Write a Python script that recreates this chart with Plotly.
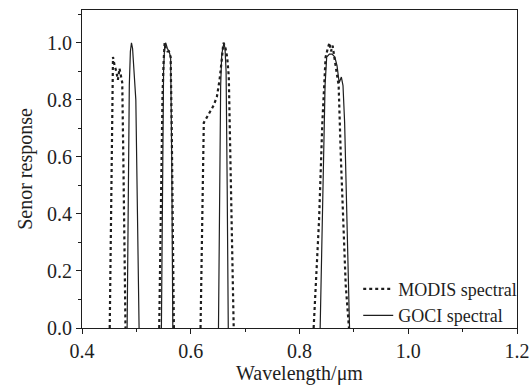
import plotly.graph_objects as go

# MODIS spectral response (dotted), one list per band
modis_b469_x = [0.451, 0.453, 0.455, 0.457, 0.460, 0.463, 0.466, 0.469, 0.472, 0.474, 0.476, 0.478, 0.480]
modis_b469_y = [0.0, 0.30, 0.70, 0.95, 0.92, 0.90, 0.87, 0.91, 0.88, 0.86, 0.60, 0.30, 0.0]
modis_b555_x = [0.542, 0.544, 0.546, 0.548, 0.550, 0.552, 0.554, 0.557, 0.560, 0.563, 0.565, 0.567, 0.569]
modis_b555_y = [0.0, 0.35, 0.65, 0.81, 0.93, 1.0, 0.98, 0.97, 0.97, 0.95, 0.70, 0.30, 0.0]
modis_b645_x = [0.618, 0.620, 0.622, 0.624, 0.630, 0.636, 0.642, 0.648, 0.653, 0.657, 0.660, 0.663, 0.667, 0.670, 0.673, 0.676, 0.679]
modis_b645_y = [0.0, 0.20, 0.45, 0.72, 0.74, 0.76, 0.78, 0.81, 0.87, 0.94, 1.0, 0.99, 0.95, 0.88, 0.60, 0.30, 0.0]
modis_b858_x = [0.826, 0.831, 0.836, 0.842, 0.848, 0.852, 0.855, 0.858, 0.861, 0.864, 0.868, 0.872, 0.876, 0.880, 0.885, 0.891]
modis_b858_y = [0.0, 0.18, 0.38, 0.72, 0.95, 0.98, 1.0, 0.97, 0.99, 0.95, 0.90, 0.85, 0.60, 0.40, 0.15, 0.0]

# GOCI spectral response (solid), one list per band
goci_b490_x = [0.483, 0.485, 0.487, 0.489, 0.491, 0.493, 0.496, 0.499, 0.502, 0.505]
goci_b490_y = [0.0, 0.50, 0.85, 0.97, 1.0, 0.98, 0.90, 0.80, 0.40, 0.0]
goci_b555_x = [0.546, 0.548, 0.550, 0.552, 0.554, 0.557, 0.560, 0.563, 0.565, 0.567]
goci_b555_y = [0.0, 0.50, 0.90, 0.99, 1.0, 0.98, 0.97, 0.95, 0.60, 0.0]
goci_b660_x = [0.651, 0.653, 0.655, 0.657, 0.659, 0.661, 0.663, 0.665, 0.667, 0.669]
goci_b660_y = [0.0, 0.45, 0.85, 0.96, 0.99, 1.0, 0.98, 0.90, 0.50, 0.0]
goci_b865_x = [0.838, 0.841, 0.844, 0.847, 0.850, 0.855, 0.860, 0.865, 0.869, 0.873, 0.877, 0.880, 0.883, 0.886, 0.889, 0.892]
goci_b865_y = [0.0, 0.30, 0.60, 0.85, 0.95, 0.96, 0.96, 0.95, 0.92, 0.86, 0.88, 0.85, 0.72, 0.50, 0.25, 0.0]

x_tick_vals = [0.4, 0.6, 0.8, 1.0, 1.2]
x_tick_text = ["0.4", "0.6", "0.8", "1.0", "1.2"]
y_tick_vals = [0.0, 0.2, 0.4, 0.6, 0.8, 1.0]
y_tick_text = ["0.0", "0.2", "0.4", "0.6", "0.8", "1.0"]

modis_bands = [(modis_b469_x, modis_b469_y), (modis_b555_x, modis_b555_y),
               (modis_b645_x, modis_b645_y), (modis_b858_x, modis_b858_y)]
goci_bands = [(goci_b490_x, goci_b490_y), (goci_b555_x, goci_b555_y),
              (goci_b660_x, goci_b660_y), (goci_b865_x, goci_b865_y)]

FONT = "Liberation Serif, Times New Roman, serif"
INK = "#1e1e1e"

fig = go.Figure()
for i, (bx, by) in enumerate(modis_bands):
    fig.add_trace(go.Scatter(x=bx, y=by, mode="lines", name="MODIS spectral",
                             legendgroup="modis", showlegend=(i == 0),
                             line=dict(color=INK, width=2.2, dash="dot")))
for i, (bx, by) in enumerate(goci_bands):
    fig.add_trace(go.Scatter(x=bx, y=by, mode="lines", name="GOCI spectral",
                             legendgroup="goci", showlegend=(i == 0),
                             line=dict(color=INK, width=1.2)))

axis_common = dict(showline=True, linecolor=INK, linewidth=1.2, mirror=True,
                   ticks="outside", ticklen=5, tickcolor=INK, tickwidth=1.2,
                   showgrid=False, zeroline=False, automargin=False,
                   tickfont=dict(family=FONT, size=20, color=INK),
                   title_font=dict(family=FONT, size=20, color=INK))

fig.update_xaxes(range=[0.4, 1.2], tickvals=x_tick_vals, ticktext=x_tick_text,
                 minor=dict(ticks="outside", ticklen=3, tickcolor=INK, dtick=0.1, tick0=0.4),
                 title_text="Wavelength/μm", title_standoff=2, **axis_common)
fig.update_yaxes(range=[0, 1.115], tickvals=y_tick_vals, ticktext=y_tick_text,
                 minor=dict(ticks="outside", ticklen=3, tickcolor=INK, dtick=0.1, tick0=0.0),
                 title_text="Senor response", title_standoff=8, **axis_common)

fig.update_layout(
    width=532, height=387,
    margin=dict(l=82, r=15, t=10, b=59, autoexpand=False),
    paper_bgcolor="white", plot_bgcolor="white",
    font=dict(family=FONT, size=20, color=INK),
    legend=dict(x=1.012, xanchor="right", y=-0.018, yanchor="bottom",
                bgcolor="rgba(0,0,0,0)", borderwidth=0,
                font=dict(family=FONT, size=18, color=INK),
                tracegroupgap=0, itemwidth=30),
)

fig.write_html("out.html")
